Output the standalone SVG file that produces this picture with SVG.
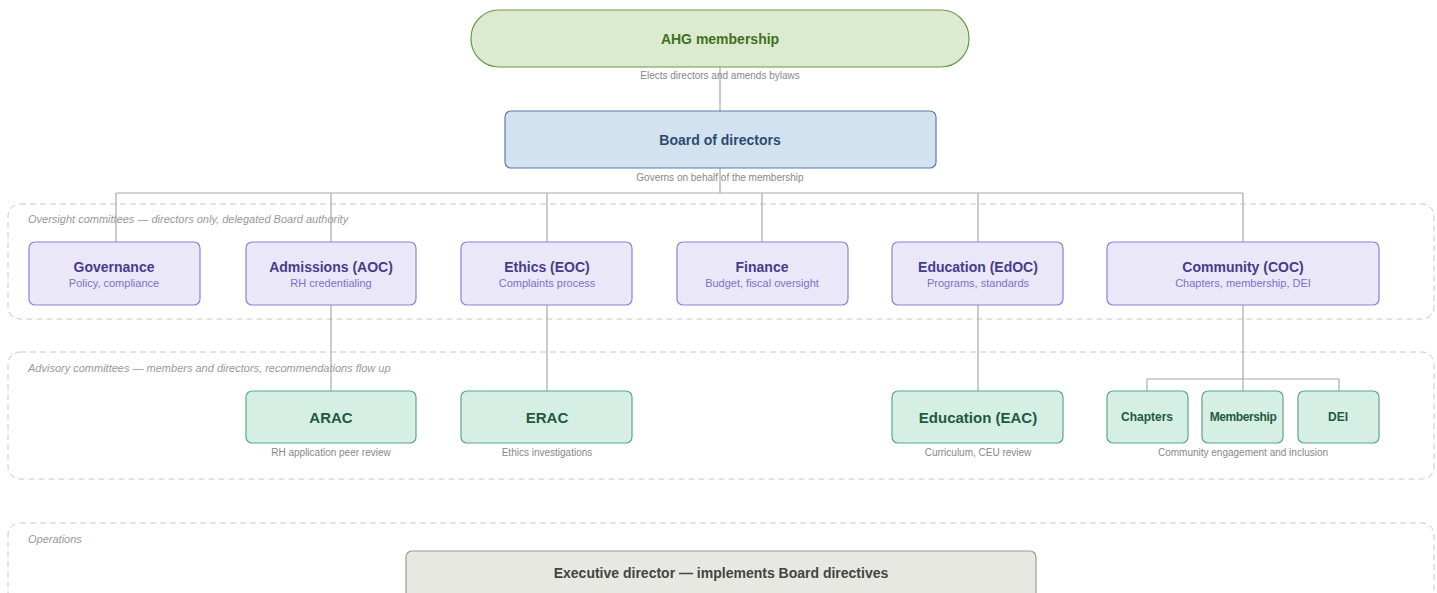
<svg xmlns="http://www.w3.org/2000/svg" width="1437" height="593" viewBox="0 0 1437 593">
<style>
text{font-family:"Liberation Sans",Arial,sans-serif}
.grp{fill:none;stroke:#c8c8c8;stroke-width:1;stroke-dasharray:6 4}
.glab{font-size:11px;font-style:italic;fill:#999}
.ov{fill:#eae8f8;stroke:#8c80d8;stroke-width:1.2}
.ovt{font-size:14px;font-weight:bold;fill:#463c8c;text-anchor:middle}
.ovs{font-size:11px;fill:#7c70cc;text-anchor:middle}
.ad{fill:#d6efe4;stroke:#5aa886;stroke-width:1.2}
.adt{font-weight:bold;fill:#1f5a40;text-anchor:middle}
.note{font-size:10px;fill:#888;text-anchor:middle}
.con{fill:none;stroke:#aaa;stroke-width:1.2}
</style>
<g id="group-oversight">
<rect class="grp" x="8" y="204" width="1426" height="115" rx="12"/>
<text class="glab" x="28" y="223">Oversight committees — directors only, delegated Board authority</text>
</g>
<g id="group-advisory">
<rect class="grp" x="8" y="352" width="1426" height="127" rx="12"/>
<text class="glab" x="28" y="372">Advisory committees — members and directors, recommendations flow up</text>
</g>
<g id="group-operations">
<rect class="grp" x="8" y="523" width="1426" height="90" rx="12"/>
<text class="glab" x="28" y="543">Operations</text>
</g>
<g id="connectors">
<path class="con" d="M720 67V111"/>
<path class="con" d="M720 168V193M116 193H1243M116 193V242M331 193V242M547 193V242M762 193V242M978 193V242M1243 193V242"/>
<path class="con" d="M331 305V391M547 305V391M978 305V391M1243 305V391"/>
<path class="con" d="M1147 391V379H1339V391"/>
</g>
<g id="node-ahg">
<rect x="471" y="10" width="498" height="57" rx="28" fill="#dcebd0" stroke="#6b9a45" stroke-width="1.2"/>
<text x="720" y="44" font-size="14" font-weight="bold" fill="#3f7020" text-anchor="middle">AHG membership</text>
<text class="note" x="720" y="79">Elects directors and amends bylaws</text>
</g>
<g id="node-board">
<rect x="505" y="111" width="431" height="57" rx="6" fill="#d3e2f0" stroke="#5a7ea6" stroke-width="1.2"/>
<text x="720" y="145" font-size="14" font-weight="bold" fill="#2d4a6e" text-anchor="middle">Board of directors</text>
<text class="note" x="720" y="181">Governs on behalf of the membership</text>
</g>
<g id="node-governance">
<rect class="ov" x="29" y="242" width="171" height="63" rx="6"/>
<text class="ovt" x="114" y="272">Governance</text>
<text class="ovs" x="114" y="287">Policy, compliance</text>
</g>
<g id="node-aoc">
<rect class="ov" x="246" y="242" width="170" height="63" rx="6"/>
<text class="ovt" x="331" y="272">Admissions (AOC)</text>
<text class="ovs" x="331" y="287">RH credentialing</text>
</g>
<g id="node-eoc">
<rect class="ov" x="461" y="242" width="171" height="63" rx="6"/>
<text class="ovt" x="547" y="272">Ethics (EOC)</text>
<text class="ovs" x="547" y="287">Complaints process</text>
</g>
<g id="node-finance">
<rect class="ov" x="677" y="242" width="171" height="63" rx="6"/>
<text class="ovt" x="762" y="272">Finance</text>
<text class="ovs" x="762" y="287">Budget, fiscal oversight</text>
</g>
<g id="node-edoc">
<rect class="ov" x="892" y="242" width="171" height="63" rx="6"/>
<text class="ovt" x="978" y="272">Education (EdOC)</text>
<text class="ovs" x="978" y="287">Programs, standards</text>
</g>
<g id="node-coc">
<rect class="ov" x="1107" y="242" width="272" height="63" rx="6"/>
<text class="ovt" x="1243" y="272">Community (COC)</text>
<text class="ovs" x="1243" y="287">Chapters, membership, DEI</text>
</g>
<g id="node-arac">
<rect class="ad" x="246" y="391" width="170" height="52" rx="6"/>
<text class="adt" x="331" y="423" font-size="15">ARAC</text>
<text class="note" x="331" y="456">RH application peer review</text>
</g>
<g id="node-erac">
<rect class="ad" x="461" y="391" width="171" height="52" rx="6"/>
<text class="adt" x="547" y="423" font-size="15">ERAC</text>
<text class="note" x="547" y="456">Ethics investigations</text>
</g>
<g id="node-eac">
<rect class="ad" x="892" y="391" width="171" height="52" rx="6"/>
<text class="adt" x="978" y="423" font-size="15">Education (EAC)</text>
<text class="note" x="978" y="456">Curriculum, CEU review</text>
</g>
<g id="node-chapters">
<rect class="ad" x="1107" y="391" width="81" height="52" rx="6"/>
<text class="adt" x="1147" y="421" font-size="12">Chapters</text>
</g>
<g id="node-membership">
<rect class="ad" x="1202" y="391" width="81" height="52" rx="6"/>
<text class="adt" x="1243" y="421" font-size="12" letter-spacing="-0.4">Membership</text>
<text class="note" x="1243" y="456">Community engagement and inclusion</text>
</g>
<g id="node-dei">
<rect class="ad" x="1298" y="391" width="81" height="52" rx="6"/>
<text class="adt" x="1338" y="421" font-size="12">DEI</text>
</g>
<g id="node-exec">
<rect x="406" y="551" width="630" height="60" rx="6" fill="#e8e8e2" stroke="#9a9a94" stroke-width="1.2"/>
<text x="721" y="578" font-size="14" font-weight="bold" fill="#444" text-anchor="middle">Executive director — implements Board directives</text>
</g>
</svg>
